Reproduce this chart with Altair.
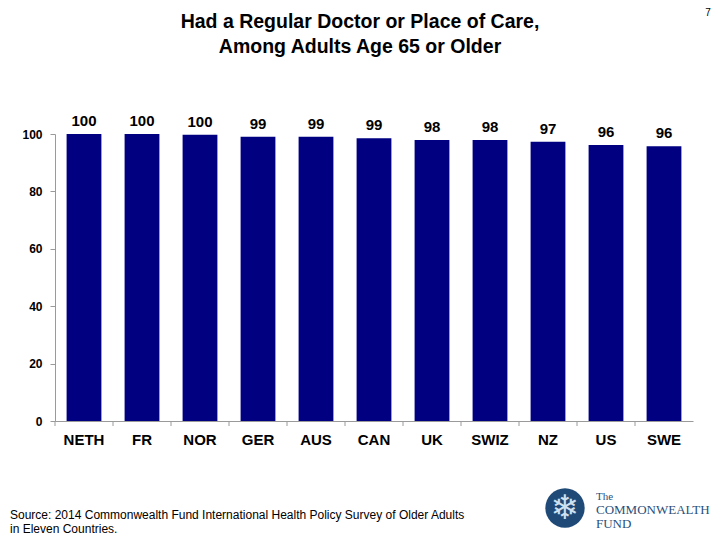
import altair as alt
import pandas as pd

countries = ["NETH", "FR", "NOR", "GER", "AUS", "CAN", "UK", "SWIZ", "NZ", "US", "SWE"]
values = [100, 100, 99.7, 99.0, 99.0, 98.5, 97.9, 97.9, 97.3, 96.2, 95.7]
labels = ["100", "100", "100", "99", "99", "99", "98", "98", "97", "96", "96"]
y_ticks = [0, 20, 40, 60, 80, 100]

title_lines = ["Had a Regular Doctor or Place of Care,", "Among Adults Age 65 or Older"]
source_lines = ["Source: 2014 Commonwealth Fund International Health Policy Survey of Older Adults",
                "in Eleven Countries."]
page_number = "7"
logo_lines = ["The", "COMMONWEALTH", "FUND"]

FONT = "Liberation Sans"
BAR = "#000080"
AXIS = "#9a9a9a"

df = pd.DataFrame({"country": countries, "value": values, "label": labels})

x = alt.X("country:N", sort=countries,
          scale=alt.Scale(paddingInner=0.4, paddingOuter=0.2),
          axis=alt.Axis(title=None, labelAngle=0, labelFont=FONT, labelFontSize=15,
                        labelFontWeight="bold", labelColor="black", ticks=False,
                        domainColor=AXIS, labelPadding=11))
y = alt.Y("value:Q", scale=alt.Scale(domain=[0, 100], nice=False),
          axis=alt.Axis(title=None, values=y_ticks, grid=False, labelFont=FONT,
                        labelFontSize=12, labelFontWeight="bold", labelColor="black",
                        tickSize=5, tickColor=AXIS, domainColor=AXIS, labelPadding=8))

base = alt.Chart(df)
bars = base.mark_bar(color=BAR).encode(x=x, y=y)
vals = base.mark_text(font=FONT, fontSize=15, fontWeight="bold", color="black",
                      baseline="bottom", dy=-5).encode(x=x, y=y, text="label:N")
ticks = base.mark_rule(color=AXIS, xOffset=-29).encode(
    x=x, y=alt.value(287), y2=alt.value(292))

one = pd.DataFrame({"k": [0]})


def note(text, px, py, **kw):
    props = dict(font=FONT, color="black", align="left", baseline="middle")
    props.update(kw)
    return alt.Chart(one).mark_text(text=text, **props).encode(
        x=alt.value(px), y=alt.value(py))


layers = [bars, vals, ticks]
layers.append(note(title_lines[0], 305, -112, fontSize=19.5, fontWeight="bold", align="center"))
layers.append(note(title_lines[1], 305, -87, fontSize=19.5, fontWeight="bold", align="center"))
layers.append(note(source_lines[0], -45, 381, fontSize=12))
layers.append(note(source_lines[1], -45, 395, fontSize=12))
layers.append(note(page_number, 653, -121, fontSize=10, align="center"))

layers.append(alt.Chart(one).mark_circle(color="#1f4a78", opacity=1, size=1550).encode(
    x=alt.value(510), y=alt.value(374)))
layers.append(note("\u2744", 510, 375, font="DejaVu Sans", fontSize=34,
                   color="#cfe0f0", align="center"))
layers.append(note(logo_lines[0], 541, 363, font="Liberation Serif", fontSize=11, color="#2a4f7a"))
layers.append(note(logo_lines[1], 541, 376, font="Liberation Serif", fontSize=13, color="#2a4f7a"))
layers.append(note(logo_lines[2], 541, 390, font="Liberation Serif", fontSize=13, color="#2a4f7a"))

chart = alt.layer(*layers).properties(
    width=638, height=287,
    autosize=alt.AutoSizeParams(type="none"),
    padding={"left": 47, "top": 126, "right": 19, "bottom": 116},
).configure_view(stroke=None)

chart.save("out.html", embed_options={"renderer": "svg", "actions": False})
